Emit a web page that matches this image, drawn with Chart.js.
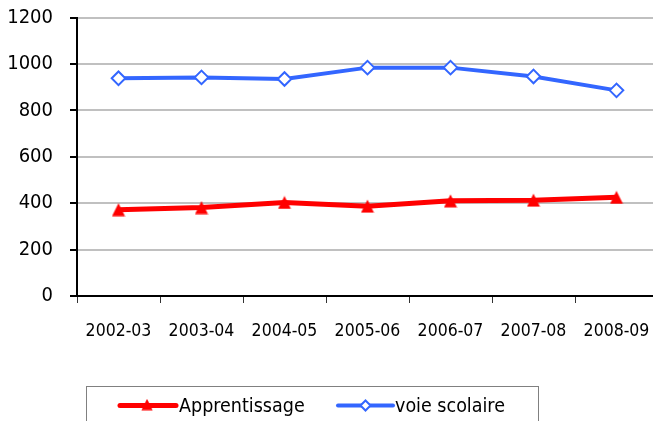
<!DOCTYPE html>
<html>
<head>
<meta charset="utf-8">
<script src="https://cdn.jsdelivr.net/npm/chart.js@4/dist/chart.umd.min.js"></script>
<style>
  html, body { margin: 0; padding: 0; background: #fff; overflow: hidden; }
  #wrap { position: relative; width: 670px; height: 421px; }
</style>
</head>
<body>
<div id="wrap"><canvas id="c" width="670" height="421"></canvas></div>
<script>
const categories = ['2002-03', '2003-04', '2004-05', '2005-06', '2006-07', '2007-08', '2008-09'];
const apprentissage = [372, 381, 403, 387, 410, 413, 425];
const voieScolaire = [938, 942, 935, 984, 984, 946, 886];
const yTicks = [0, 200, 400, 600, 800, 1000, 1200];
const seriesNames = ['Apprentissage', 'voie scolaire'];

const RED = '#ff0000';
const BLUE = '#3366ff';
const FONT = '"DejaVu Sans Condensed", "DejaVu Sans", sans-serif';

// Triangle marker centred on its bounding box (Excel-like)
function makeTriangle(size, w, h, color) {
  const c = document.createElement('canvas');
  c.width = size; c.height = size;
  const g = c.getContext('2d');
  const left = (size - w) / 2;
  const top = (size - h) / 2;
  g.fillStyle = color;
  g.beginPath();
  g.moveTo(size / 2, top);
  g.lineTo(left + w, top + h);
  g.lineTo(left, top + h);
  g.closePath();
  g.fill();
  return c;
}
const triMarker = makeTriangle(14, 13, 13, RED);

const legendPlugin = {
  id: 'boxLegend',
  afterDraw(chart) {
    const ctx = chart.ctx;
    ctx.save();
    ctx.strokeStyle = '#808080';
    ctx.lineWidth = 1;
    ctx.strokeRect(86.5, 386.5, 452, 60);
    const y = 405.5;
    const items = [
      { x0: 120, x1: 176, text: seriesNames[0], tx: 179, ds: chart.data.datasets[0] },
      { x0: 338, x1: 393, text: seriesNames[1], tx: 395, ds: chart.data.datasets[1] }
    ];
    items.forEach(it => {
      ctx.strokeStyle = it.ds.borderColor;
      ctx.lineWidth = it.ds.borderWidth;
      ctx.lineCap = 'round';
      ctx.beginPath();
      ctx.moveTo(it.x0, y);
      ctx.lineTo(it.x1, y);
      ctx.stroke();
      const cx = (it.x0 + it.x1) / 2;
      if (it.ds.pointStyle === 'rectRot') {
        const r = 5;
        ctx.fillStyle = it.ds.pointBackgroundColor;
        ctx.strokeStyle = it.ds.pointBorderColor;
        ctx.lineWidth = it.ds.pointBorderWidth;
        ctx.beginPath();
        ctx.moveTo(cx - r, y); ctx.lineTo(cx, y - r); ctx.lineTo(cx + r, y); ctx.lineTo(cx, y + r);
        ctx.closePath();
        ctx.fill(); ctx.stroke();
      } else {
        ctx.drawImage(triMarker, cx - 7, y - 7, 12, 12);
      }
      ctx.fillStyle = '#000';
      ctx.font = '19.5px ' + FONT;
      ctx.textBaseline = 'middle';
      ctx.textAlign = 'left';
      ctx.fillText(it.text, it.tx, y + 1);
    });
    ctx.restore();
  }
};

new Chart(document.getElementById('c'), {
  type: 'line',
  data: {
    labels: categories,
    datasets: [
      {
        label: seriesNames[0],
        data: apprentissage,
        borderColor: RED,
        backgroundColor: RED,
        borderWidth: 5,
        pointStyle: triMarker,
        pointRadius: 7,
        pointBackgroundColor: RED,
        pointBorderColor: RED,
        tension: 0
      },
      {
        label: seriesNames[1],
        data: voieScolaire,
        borderColor: BLUE,
        backgroundColor: BLUE,
        borderWidth: 4,
        pointStyle: 'rectRot',
        pointRadius: 6.8,
        pointBorderWidth: 2,
        pointBackgroundColor: '#ffffff',
        pointBorderColor: BLUE,
        tension: 0
      }
    ]
  },
  options: {
    responsive: false,
    animation: false,
    devicePixelRatio: 1,
    layout: { padding: { top: 17.5, right: 0, bottom: 65, left: 0 } },
    plugins: { legend: { display: false }, tooltip: { enabled: false } },
    scales: {
      x: {
        type: 'category',
        offset: true,
        grid: {
          offset: true,
          drawOnChartArea: false,
          drawTicks: true,
          tickLength: 7,
          tickColor: '#333',
          lineWidth: 1
        },
        border: { display: true, color: '#000', width: 2 },
        ticks: {
          color: '#000',
          font: { family: FONT, size: 17.5 },
          padding: 18,
          maxRotation: 0,
          autoSkip: false
        },
        afterFit(scale) { scale.height = 60; }
      },
      y: {
        min: 0,
        max: 1200,
        afterBuildTicks(scale) { scale.ticks = yTicks.map(v => ({ value: v })); },
        grid: {
          color: '#c0c0c0',
          lineWidth: 2,
          tickColor: '#000',
          tickLength: 7,
          drawTicks: true
        },
        border: { display: true, color: '#000', width: 2 },
        ticks: {
          color: '#000',
          font: { family: FONT, size: 20 },
          padding: 17,
          callback: (v) => String(v)
        },
        afterFit(scale) {
          scale.width = 77;
          scale.paddingTop = 0;
          scale.paddingBottom = 0;
        }
      }
    }
  },
  plugins: [legendPlugin]
});
</script>
</body>
</html>
